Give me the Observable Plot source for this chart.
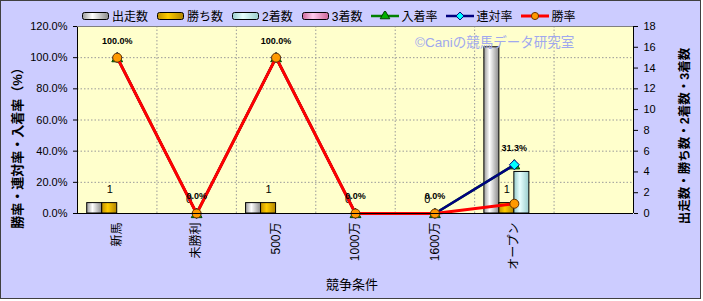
<!DOCTYPE html>
<html><head><meta charset="utf-8">
<script src="https://cdn.jsdelivr.net/npm/d3@7"></script>
<script src="https://cdn.jsdelivr.net/npm/@observablehq/plot@0.6"></script>
<style>
body{margin:0;background:#fff;}
#chart{position:relative;width:701px;height:299px;box-sizing:border-box;border:1px solid #404040;background:#ccccff;font-family:"Liberation Sans","Noto Sans CJK JP",sans-serif;overflow:hidden;}
#chart svg.plot{position:absolute;left:0;top:0;}
#legend{position:absolute;left:81px;top:6px;display:flex;gap:9px;font-size:12px;color:#000;align-items:center;z-index:2;}
.item{display:flex;align-items:center;}
.item svg{margin-right:2px;}
</style></head><body>
<div id="chart"><div id="legend"></div></div>
<script>
// ---- data ----
const categories = ["新馬", "未勝利", "500万", "1000万", "1600万", "オープン"];
const starts   = [1, 0, 1, 0, 0, 16];   // 出走数
const wins     = [1, 0, 1, 0, 0, 1];    // 勝ち数
const seconds  = [0, 0, 0, 0, 0, 4];    // 2着数
const thirds   = [0, 0, 0, 0, 0, 0];    // 3着数
const placeRate  = [100, 0, 100, 0, 0, 31.25]; // 入着率
const rentaiRate = [100, 0, 100, 0, 0, 31.25]; // 連対率
const winRate    = [100, 0, 100, 0, 0, 6.25];  // 勝率
const pctTicks   = [0, 20, 40, 60, 80, 100, 120];
const countTicks = [0, 2, 4, 6, 8, 10, 12, 14, 16, 18];
const barNames  = ["出走数", "勝ち数", "2着数", "3着数"];
const lineNames = ["入着率", "連対率", "勝率"];

// ---- styling ----
const K = 120 / 18;              // count -> percent scale factor (dual axis)
const n = categories.length;
const slots = n + 1;             // one empty slot at right, as in reference
const G = 0.755, W = G / 4;      // bar group width and single bar width (x units)

const barSeries = [
  {name: barNames[0], values: starts,  fill: "url(#gStart)"},
  {name: barNames[1], values: wins,    fill: "url(#gWin)"},
  {name: barNames[2], values: seconds, fill: "url(#gSecond)"},
  {name: barNames[3], values: thirds,  fill: "url(#gThird)"}
];
const lineSeries = [
  {name: lineNames[0], values: placeRate,  stroke: "#008000", width: 2.5, symbol: "triangle", mfill: "#00b000", mstroke: "#004000", r: 4},
  {name: lineNames[1], values: rentaiRate, stroke: "#000080", width: 2.5, symbol: "diamond2", mfill: "#00ffff", mstroke: "#000080", r: 4.5},
  {name: lineNames[2], values: winRate,    stroke: "#ff0000", width: 3,   symbol: "circle",   mfill: "#ff9900", mstroke: "#663300", r: 4.5}
];

const idx = d3.range(n);
const marks = [
  Plot.frame({fill: "#ffffcc"}),
  Plot.ruleY(pctTicks.slice(1, -1), {stroke: "#9a9a9a", strokeDasharray: "1.5,2"}),
  Plot.ruleX(idx.map(i => i + 0.5), {stroke: "#9a9a9a", strokeDasharray: "1.5,2"}),
  ...barSeries.map((s, k) => Plot.rect(
    s.values.map((v, i) => ({i, v})).filter(d => d.v > 0),
    {x1: d => d.i - G / 2 + k * W, x2: d => d.i - G / 2 + (k + 1) * W, y1: 0, y2: d => d.v * K,
     fill: s.fill, stroke: "#000", strokeWidth: 1})),
  Plot.text(wins.map((v, i) => ({i, v})),
    {x: d => d.i - G / 2 + 1.5 * W, y: d => d.v * K, text: d => String(d.v), dy: -14, fontSize: 11, fill: "#000"}),
  ...lineSeries.flatMap(s => {
    const data = s.values.map((v, i) => ({i, v}));
    return [
      Plot.line(data, {x: "i", y: "v", stroke: s.stroke, strokeWidth: s.width}),
      Plot.dot(data, {x: "i", y: "v", symbol: s.symbol, fill: s.mfill, stroke: s.mstroke, strokeWidth: 1, r: s.r, dy: s.symbol === "triangle" ? 1 : 0})
    ];
  }),
  Plot.text(placeRate.map((v, i) => ({i, v})),
    {x: "i", y: "v", text: d => d.v.toFixed(1) + "%", dy: -17, fontSize: 9, fontWeight: "bold", fill: "#000"}),
  Plot.ruleX([-0.5], {stroke: "#000"}),
  Plot.ruleX([slots - 0.5], {stroke: "#000"}),
  Plot.ruleY([0], {stroke: "#000"}),
  Plot.ruleY([120], {stroke: "#808080"}),
  Plot.axisY(pctTicks, {anchor: "left", tickFormat: d => d.toFixed(1) + "%", tickSize: 4, tickPadding: 6, label: null, fontSize: 11}),
  Plot.axisY(countTicks.map(c => c * K), {anchor: "right", tickFormat: d => String(Math.round(d / K)), tickSize: 4, tickPadding: 6, label: null, fontSize: 11}),
  Plot.axisX(idx, {tickFormat: i => categories[i], tickRotate: -90, tickSize: 0, tickPadding: 9, label: null, fontSize: 12})
];

const plot = Plot.plot({
  width: 699, height: 297,
  marginLeft: 76, marginRight: 67, marginTop: 25, marginBottom: 85,
  x: {type: "linear", domain: [-0.5, slots - 0.5]},
  y: {domain: [0, 120]},
  style: {background: "transparent", fontFamily: "'Liberation Sans','Noto Sans CJK JP',sans-serif", fontSize: "11px", color: "#000", overflow: "visible"},
  marks
});
plot.classList.add("plot");
document.getElementById("chart").appendChild(plot);

// gradients
const svg = d3.select(plot);
const defs = svg.insert("defs", ":first-child");
function grad(id, stops) {
  const g = defs.append("linearGradient").attr("id", id).attr("x1", "0").attr("x2", "1").attr("y1", "0").attr("y2", "0");
  stops.forEach(([o, c]) => g.append("stop").attr("offset", o).attr("stop-color", c));
}
grad("gStart", [[0, "#9a9a9a"], [0.38, "#ffffff"], [1, "#8a8a8a"]]);
grad("gWin", [[0, "#c09000"], [0.4, "#ffcc00"], [1, "#b08400"]]);
grad("gSecond", [[0, "#99cccc"], [0.4, "#e8ffff"], [1, "#99cccc"]]);
grad("gThird", [[0, "#cc6699"], [0.4, "#ffccee"], [1, "#cc6699"]]);

// titles & watermark
const ff = "'Liberation Sans','Noto Sans CJK JP',sans-serif";
svg.append("text").attr("transform", "translate(18,144) rotate(-90)").attr("text-anchor", "middle")
  .attr("dominant-baseline", "middle").attr("font-size", 13).attr("font-weight", "bold").attr("font-family", ff).attr("fill", "#000")
  .text("勝率・連対率・入着率（%）");
svg.append("text").attr("transform", "translate(685,135) rotate(-90)").attr("text-anchor", "middle")
  .attr("dominant-baseline", "middle").attr("font-size", 12.5).attr("font-weight", "bold").attr("font-family", ff).attr("fill", "#000")
  .text("出走数・勝ち数・2着数・3着数");
svg.append("text").attr("x", 351).attr("y", 285).attr("text-anchor", "middle")
  .attr("dominant-baseline", "middle").attr("font-size", 13).attr("font-family", ff).attr("fill", "#000")
  .text("競争条件");
svg.append("text").attr("x", 414).attr("y", 42).attr("text-anchor", "start")
  .attr("dominant-baseline", "middle").attr("font-size", 13.5).attr("font-family", ff).attr("fill", "#a0a8ee")
  .text("©Caniの競馬データ研究室");

// legend
const legend = d3.select("#legend");
barSeries.forEach(s => {
  const it = legend.append("div").attr("class", "item");
  const sw = it.append("svg").attr("width", 28).attr("height", 10);
  sw.append("rect").attr("x", 0.5).attr("y", 1.5).attr("width", 26).attr("height", 7).attr("rx", 2)
    .attr("fill", s.fill).attr("stroke", "#000");
  it.append("span").text(s.name);
});
const sym = {triangle: d3.symbolTriangle, diamond2: d3.symbolDiamond2, circle: d3.symbolCircle};
lineSeries.forEach(s => {
  const it = legend.append("div").attr("class", "item");
  const sw = it.append("svg").attr("width", 28).attr("height", 10);
  sw.append("line").attr("x1", 0).attr("x2", 28).attr("y1", 5).attr("y2", 5).attr("stroke", s.stroke).attr("stroke-width", s.width);
  sw.append("path").attr("transform", "translate(14,5)").attr("d", d3.symbol(sym[s.symbol], 40)())
    .attr("fill", s.mfill).attr("stroke", s.mstroke);
  it.append("span").text(s.name);
});
</script>
</body></html>
